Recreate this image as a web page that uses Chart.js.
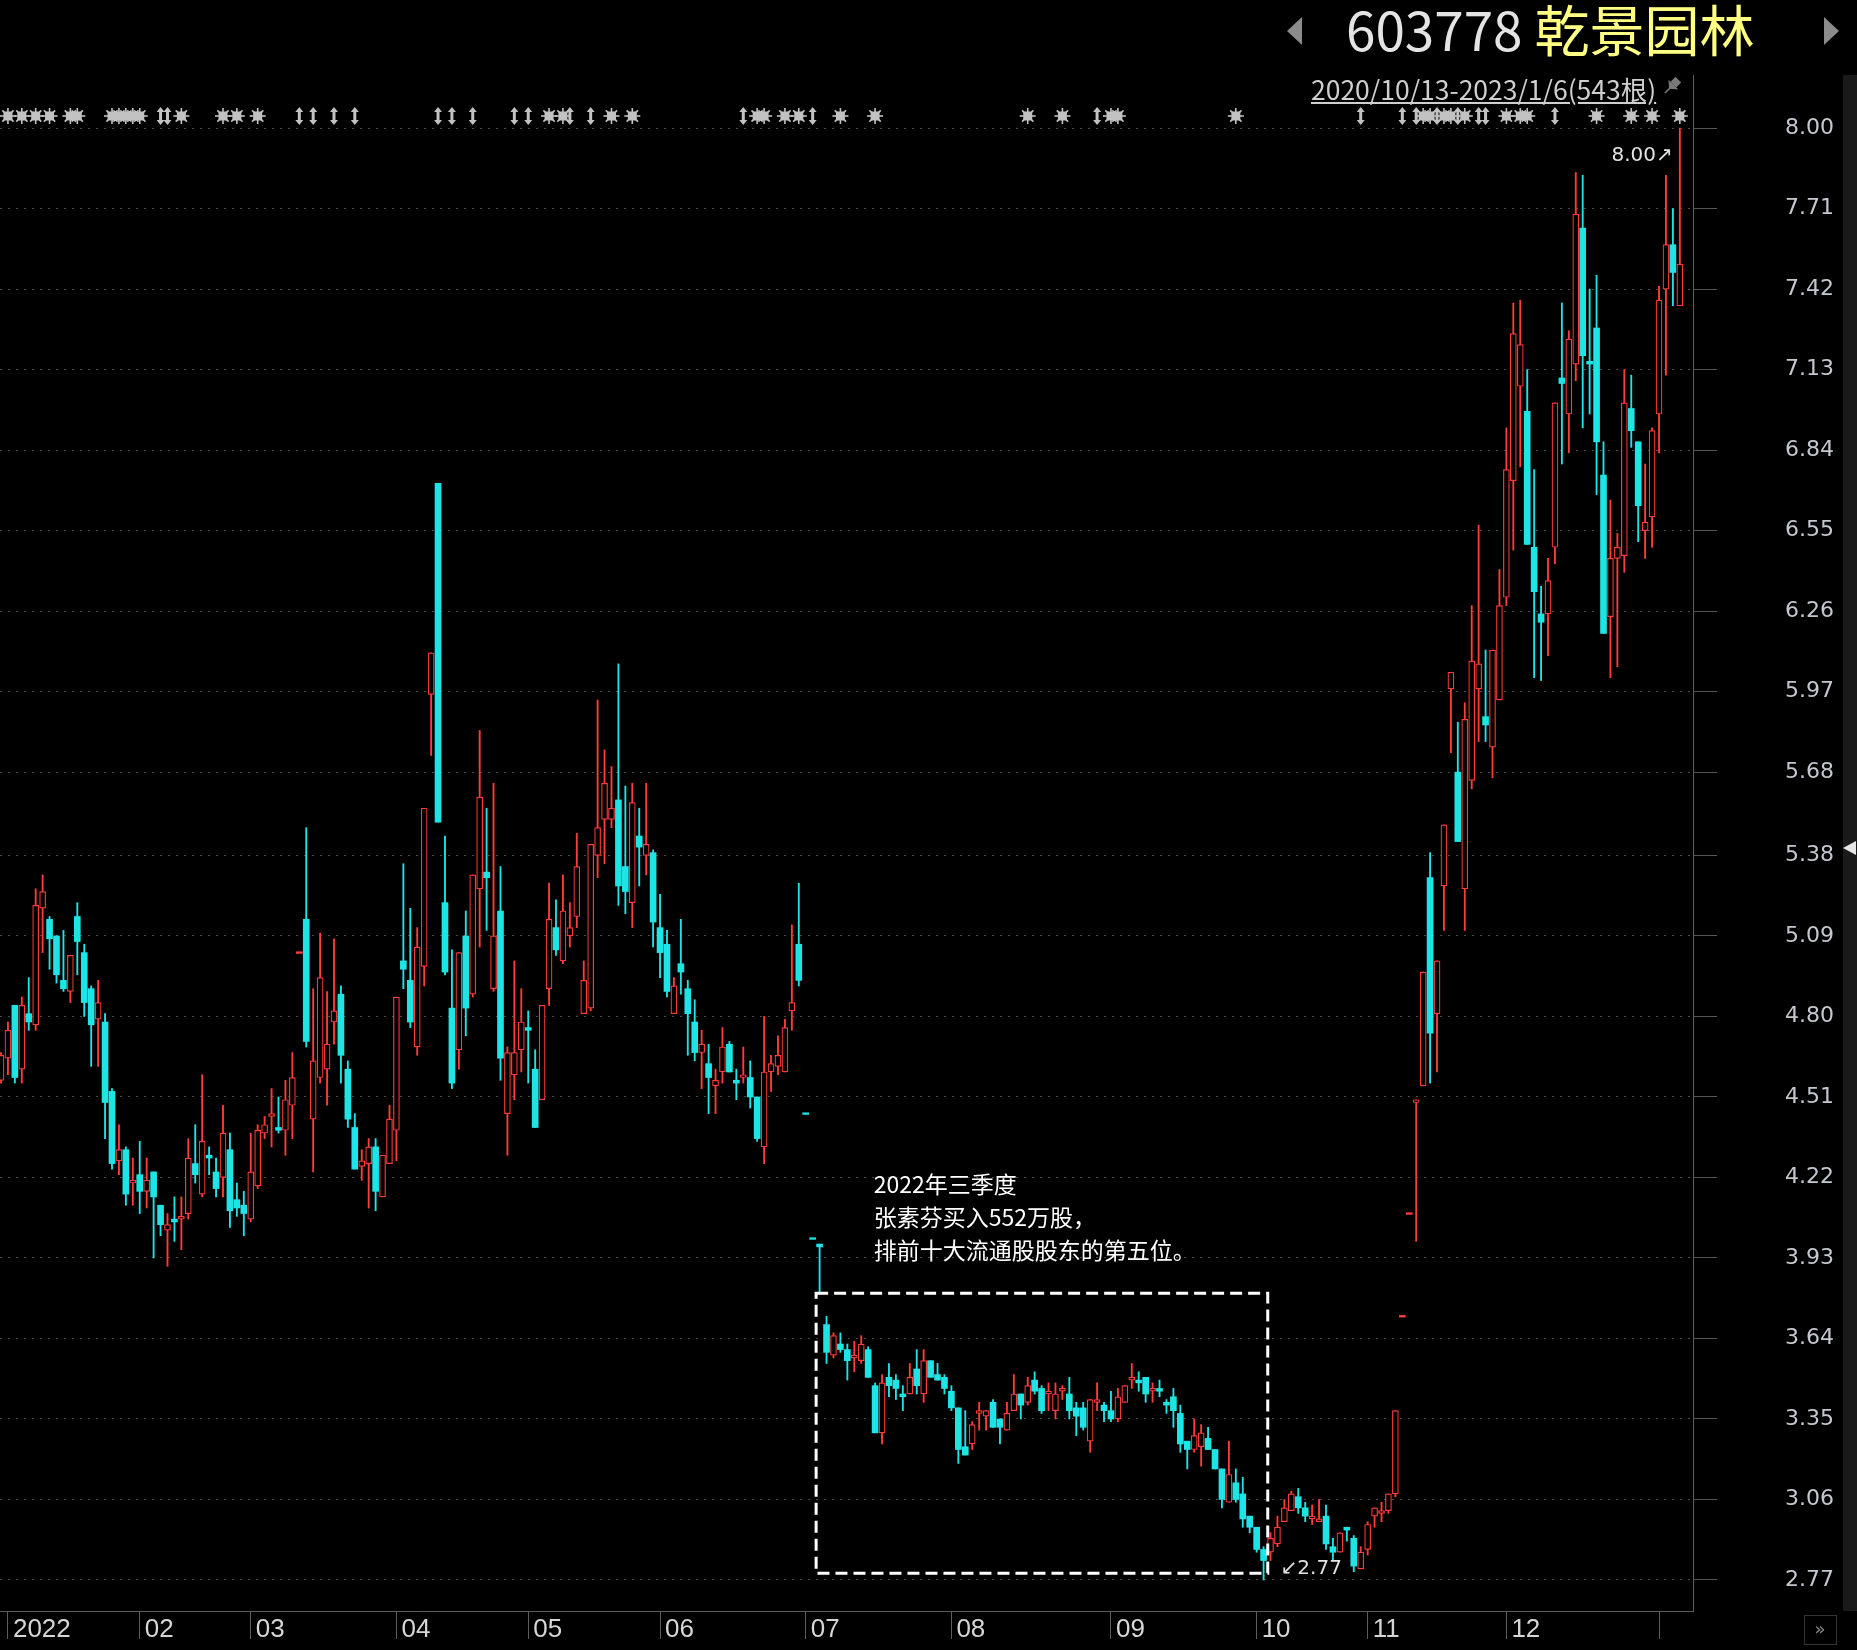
<!DOCTYPE html>
<html>
<head>
<meta charset="utf-8">
<script src="https://cdn.jsdelivr.net/npm/chart.js@4.4.1/dist/chart.umd.min.js"></script>
<style>
  html, body { margin: 0; padding: 0; background: #000; }
  #wrap { position: relative; width: 1857px; height: 1650px; overflow: hidden; background: #000; }
  #box { position: absolute; left: 0; top: 0; width: 1857px; height: 1650px; }
  #title { position: absolute; left: 1346px; top: 1px; font: 53px "Noto Sans CJK SC"; line-height: 53px; white-space: nowrap; }
  #title .code { color: #e4e4e4; }
  #title .name { color: #ffff82; font-size: 55px; }
  #range { position: absolute; left: 1311px; top: 75px; font: 26.5px "Noto Sans CJK SC"; line-height: 27px; color: #cfcfcf; text-decoration: underline; white-space: nowrap; }
  .tri { position: absolute; width: 0; height: 0; border-top: 14px solid transparent; border-bottom: 14px solid transparent; }
  #prev { left: 1287px; top: 17px; border-right: 15px solid #8c8c8c; }
  #next { left: 1824px; top: 17px; border-left: 15px solid #8c8c8c; }
</style>
</head>
<body>
<div id="wrap">
  <div id="box"><canvas id="chart"></canvas></div>
  <div id="prev" class="tri"></div>
  <div id="title"><span class="code">603778</span> <span class="name">乾景园林</span></div>
  <div id="next" class="tri"></div>
  <div id="range">2020/10/13-2023/1/6(543根)</div>
</div>
<script>
// daily candles, 2021-12-31 .. 2023-01-06
const opens = [
  4.57, 4.65, 4.84, 4.61, 4.81, 4.77, 5.19, 5.15, 5.09, 4.93,
  4.89, 5.16, 5.03, 4.90, 4.79, 4.78, 4.53, 4.28, 4.32, 4.20,
  4.23, 4.17, 4.24, 4.12, 4.03, 4.07, 4.07, 4.09, 4.27, 4.16,
  4.30, 4.24, 4.22, 4.32, 4.14, 4.12, 4.07, 4.19, 4.38, 4.44,
  4.40, 4.39, 4.48, 5.03, 5.15, 4.43, 4.58, 4.61, 4.78, 4.88,
  4.61, 4.40, 4.26, 4.27, 4.33, 4.15, 4.27, 4.39, 5.00, 4.93,
  4.69, 4.98, 5.96, 6.72, 5.21, 4.83, 4.68, 5.09, 4.88, 5.26,
  5.32, 4.90, 5.18, 4.45, 4.59, 4.68, 4.76, 4.61, 4.50, 4.90,
  5.12, 5.00, 5.09, 5.16, 4.81, 4.83, 5.38, 5.51, 5.51, 5.58,
  5.34, 5.21, 5.45, 5.38, 5.39, 5.12, 5.06, 4.81, 4.99, 4.90,
  4.78, 4.67, 4.63, 4.55, 4.60, 4.70, 4.57, 4.58, 4.58, 4.51,
  4.33, 4.60, 4.62, 4.60, 4.82, 5.06, 4.45, 4.00, 3.98, 3.69,
  3.58, 3.62, 3.60, 3.57, 3.56, 3.60, 3.47, 3.30, 3.50, 3.49,
  3.44, 3.44, 3.53, 3.44, 3.56, 3.51, 3.50, 3.45, 3.39, 3.25,
  3.26, 3.37, 3.36, 3.41, 3.35, 3.31, 3.38, 3.44, 3.41, 3.49,
  3.46, 3.44, 3.38, 3.45, 3.44, 3.39, 3.39, 3.27, 3.41, 3.40,
  3.38, 3.35, 3.41, 3.49, 3.49, 3.50, 3.45, 3.46, 3.41, 3.43,
  3.37, 3.27, 3.24, 3.25, 3.28, 3.24, 3.17, 3.05, 3.12, 3.08,
  3.00, 2.96, 2.88, 2.87, 2.90, 2.98, 3.02, 3.07, 3.03, 2.99,
  2.98, 3.00, 2.89, 2.87, 2.96, 2.92, 2.81, 2.88, 3.00, 3.01,
  3.02, 3.08, 3.72, 4.09, 4.49, 4.55, 5.30, 4.81, 5.27, 5.98,
  5.68, 5.26, 5.65, 5.98, 5.88, 5.77, 5.94, 6.31, 6.73, 7.07,
  6.98, 6.49, 6.25, 6.25, 6.49, 7.10, 6.97, 7.15, 7.64, 7.16,
  7.28, 6.75, 6.24, 6.45, 6.46, 6.99, 6.87, 6.55, 6.60, 6.97,
  7.42, 7.58, 7.36
];
const highs = [
  4.67, 4.78, 4.84, 4.87, 4.94, 5.26, 5.31, 5.16, 5.09, 5.11,
  5.02, 5.21, 5.06, 4.91, 4.93, 4.81, 4.54, 4.41, 4.33, 4.29,
  4.35, 4.29, 4.24, 4.12, 4.09, 4.15, 4.15, 4.36, 4.41, 4.59,
  4.33, 4.29, 4.48, 4.38, 4.20, 4.17, 4.38, 4.41, 4.44, 4.54,
  4.51, 4.57, 4.67, 5.03, 5.48, 4.90, 5.10, 4.89, 5.08, 4.91,
  4.64, 4.45, 4.32, 4.36, 4.36, 4.30, 4.48, 4.87, 5.35, 5.19,
  5.12, 5.55, 6.11, 6.72, 5.45, 5.04, 5.03, 5.18, 5.31, 5.83,
  5.55, 5.64, 5.34, 4.69, 5.00, 4.90, 4.82, 4.68, 4.84, 5.28,
  5.22, 5.31, 5.21, 5.46, 5.00, 5.42, 5.94, 5.76, 5.70, 6.07,
  5.63, 5.64, 5.55, 5.64, 5.40, 5.24, 5.11, 4.94, 5.15, 4.93,
  4.86, 4.75, 4.70, 4.61, 4.76, 4.71, 4.61, 4.69, 4.64, 4.51,
  4.80, 4.66, 4.73, 4.79, 5.13, 5.28, 4.45, 4.00, 3.98, 3.72,
  3.66, 3.66, 3.62, 3.63, 3.65, 3.61, 3.48, 3.51, 3.55, 3.51,
  3.47, 3.55, 3.60, 3.60, 3.56, 3.55, 3.51, 3.47, 3.39, 3.38,
  3.34, 3.41, 3.38, 3.42, 3.35, 3.41, 3.51, 3.44, 3.50, 3.52,
  3.47, 3.48, 3.48, 3.47, 3.50, 3.41, 3.41, 3.42, 3.48, 3.41,
  3.45, 3.46, 3.47, 3.55, 3.52, 3.50, 3.48, 3.49, 3.42, 3.46,
  3.40, 3.27, 3.35, 3.33, 3.32, 3.24, 3.17, 3.27, 3.17, 3.14,
  3.00, 2.96, 2.89, 2.94, 3.00, 3.06, 3.09, 3.10, 3.05, 3.04,
  3.06, 3.04, 2.92, 2.94, 2.96, 2.93, 2.89, 2.98, 3.03, 3.05,
  3.08, 3.38, 3.72, 4.09, 4.50, 4.96, 5.39, 5.00, 5.49, 6.04,
  5.86, 5.93, 6.28, 6.57, 6.12, 6.12, 6.41, 6.92, 7.37, 7.38,
  7.13, 6.77, 6.35, 6.45, 7.01, 7.37, 7.27, 7.84, 7.83, 7.42,
  7.47, 6.87, 6.66, 6.54, 7.13, 7.11, 6.87, 6.79, 6.92, 7.43,
  7.83, 7.71, 8.00
];
const lows = [
  4.56, 4.59, 4.56, 4.56, 4.75, 4.75, 5.03, 4.97, 4.92, 4.89,
  4.85, 4.95, 4.80, 4.62, 4.62, 4.36, 4.25, 4.23, 4.12, 4.12,
  4.09, 4.11, 3.93, 4.01, 3.90, 3.99, 3.96, 4.07, 4.20, 4.15,
  4.23, 4.15, 4.15, 4.04, 4.08, 4.01, 4.06, 4.18, 4.36, 4.33,
  4.38, 4.30, 4.36, 5.03, 4.69, 4.24, 4.56, 4.48, 4.70, 4.56,
  4.40, 4.25, 4.21, 4.11, 4.10, 4.15, 4.27, 4.28, 4.90, 4.76,
  4.66, 4.91, 5.74, 5.50, 4.95, 4.54, 4.61, 4.73, 4.87, 5.05,
  5.11, 4.89, 4.57, 4.30, 4.50, 4.60, 4.56, 4.40, 4.50, 4.84,
  5.02, 4.99, 5.05, 5.12, 4.81, 4.82, 5.30, 5.35, 5.48, 5.20,
  5.17, 5.12, 5.27, 5.31, 5.05, 4.94, 4.87, 4.81, 4.88, 4.66,
  4.64, 4.54, 4.45, 4.45, 4.56, 4.60, 4.50, 4.56, 4.47, 4.35,
  4.27, 4.53, 4.59, 4.60, 4.75, 4.91, 4.45, 4.00, 3.80, 3.55,
  3.57, 3.59, 3.49, 3.52, 3.55, 3.50, 3.30, 3.26, 3.43, 3.42,
  3.38, 3.44, 3.44, 3.41, 3.50, 3.49, 3.44, 3.38, 3.19, 3.22,
  3.24, 3.31, 3.31, 3.32, 3.26, 3.31, 3.38, 3.35, 3.40, 3.44,
  3.37, 3.38, 3.35, 3.42, 3.35, 3.29, 3.31, 3.23, 3.38, 3.34,
  3.34, 3.34, 3.41, 3.46, 3.45, 3.41, 3.41, 3.43, 3.37, 3.32,
  3.23, 3.17, 3.23, 3.18, 3.24, 3.17, 3.03, 3.05, 3.05, 2.96,
  2.94, 2.87, 2.77, 2.84, 2.89, 2.98, 3.02, 3.01, 2.98, 2.97,
  2.98, 2.88, 2.84, 2.87, 2.91, 2.80, 2.81, 2.86, 2.96, 2.98,
  3.01, 3.07, 3.72, 4.09, 3.99, 4.55, 4.56, 4.60, 5.11, 5.75,
  5.43, 5.11, 5.62, 5.79, 5.79, 5.66, 5.94, 6.28, 6.48, 6.78,
  6.50, 6.02, 6.01, 6.10, 6.43, 6.79, 6.83, 7.09, 6.92, 6.97,
  6.68, 6.18, 6.02, 6.06, 6.40, 6.85, 6.51, 6.45, 6.49, 6.83,
  7.11, 7.36, 7.36
];
const closes = [
  4.66, 4.75, 4.58, 4.84, 4.78, 5.20, 5.25, 5.08, 4.95, 4.90,
  5.02, 5.07, 4.85, 4.77, 4.85, 4.49, 4.27, 4.32, 4.16, 4.21,
  4.17, 4.21, 4.15, 4.05, 4.05, 4.06, 4.08, 4.29, 4.23, 4.35,
  4.29, 4.18, 4.38, 4.10, 4.11, 4.09, 4.24, 4.39, 4.41, 4.45,
  4.39, 4.50, 4.58, 5.03, 4.71, 4.64, 4.94, 4.70, 4.82, 4.66,
  4.43, 4.25, 4.28, 4.33, 4.17, 4.30, 4.43, 4.87, 4.97, 4.78,
  5.05, 5.55, 6.11, 5.50, 4.96, 4.56, 5.03, 4.83, 5.31, 5.59,
  5.30, 5.09, 4.65, 4.67, 4.67, 4.78, 4.75, 4.40, 4.84, 5.15,
  5.04, 5.18, 5.12, 5.34, 4.93, 5.42, 5.48, 5.64, 5.55, 5.27,
  5.25, 5.57, 5.41, 5.42, 5.14, 5.03, 4.89, 4.91, 4.96, 4.81,
  4.67, 4.70, 4.58, 4.57, 4.69, 4.60, 4.56, 4.59, 4.51, 4.36,
  4.60, 4.63, 4.66, 4.76, 4.85, 4.93, 4.45, 4.00, 3.97, 3.59,
  3.65, 3.60, 3.56, 3.58, 3.62, 3.50, 3.30, 3.48, 3.47, 3.46,
  3.43, 3.50, 3.47, 3.56, 3.50, 3.49, 3.46, 3.39, 3.24, 3.22,
  3.33, 3.38, 3.38, 3.32, 3.32, 3.37, 3.44, 3.40, 3.47, 3.45,
  3.38, 3.45, 3.44, 3.46, 3.38, 3.36, 3.32, 3.42, 3.42, 3.38,
  3.35, 3.43, 3.47, 3.50, 3.48, 3.44, 3.46, 3.45, 3.40, 3.38,
  3.26, 3.24, 3.29, 3.30, 3.24, 3.17, 3.06, 3.15, 3.06, 2.99,
  2.96, 2.88, 2.84, 2.92, 2.96, 3.03, 3.08, 3.03, 3.00, 3.00,
  2.99, 2.90, 2.87, 2.94, 2.95, 2.82, 2.87, 2.97, 3.03, 3.02,
  3.08, 3.38, 3.72, 4.09, 4.50, 4.96, 4.74, 5.00, 5.49, 6.04,
  5.43, 5.87, 6.08, 6.07, 5.85, 6.12, 6.28, 6.77, 7.26, 7.22,
  6.50, 6.33, 6.22, 6.37, 7.01, 7.08, 7.24, 7.69, 7.18, 7.15,
  6.87, 6.18, 6.45, 6.49, 7.01, 6.91, 6.64, 6.58, 6.91, 7.38,
  7.58, 7.48, 7.51
];

// x axis: candle index where each month starts, and its label
const monthTickIdx = [1, 20, 36, 57, 76, 95, 116, 137, 160, 181, 197, 217, 239];
const monthLabels = ['2022', '02', '03', '04', '05', '06', '07', '08', '09', '10', '11', '12', ''];

const yTickLabels = ['2.77', '3.06', '3.35', '3.64', '3.93', '4.22', '4.51', '4.80', '5.09', '5.38',
                     '5.68', '5.97', '6.26', '6.55', '6.84', '7.13', '7.42', '7.71', '8.00'];

// event markers along the top
const starIdx = [1, 3, 5, 7, 10, 11, 16, 17, 18, 19, 20, 26, 32, 34, 37, 79, 81, 88, 91, 109, 110,
                 113, 115, 121, 126, 148, 153, 160, 161, 178, 205, 206, 208, 209, 211, 217, 219, 220,
                 230, 235, 238, 242];
const arrowIdx = [23, 24, 43, 45, 48, 51, 63, 65, 68, 74, 76, 82, 85, 107, 117, 158, 196, 202, 204,
                  207, 210, 213, 214, 224];

const noteLines = ['2022年三季度', '张素芬买入552万股，', '排前十大流通股股东的第五位。'];

const UP = '#ff3b3b';
const DOWN = '#1ee5e5';

const isUp = closes.map((c, i) => c > opens[i] || (c === opens[i] && c >= (i ? closes[i - 1] : c)));
const thin = closes.map((c, i) => Math.abs(c - opens[i]) < 0.006);
const colors = isUp.map(u => u ? UP : DOWN);

const bodyData = opens.map((o, i) => {
  let lo = Math.min(o, closes[i]), hi = Math.max(o, closes[i]);
  if (thin[i]) { const m = (lo + hi) / 2; lo = m - 0.003; hi = m + 0.003; }
  return { x: i, y: [lo, hi] };
});
const wickData = lows.map((l, i) => ({ x: i, y: [l, highs[i]] }));

function drawStar(ctx, cx, cy) {
  ctx.fillStyle = '#c2c2c2';
  ctx.strokeStyle = '#c2c2c2';
  ctx.fillRect(cx - 4.5, cy - 4.5, 9, 9);
  ctx.lineWidth = 1.6;
  for (let k = 0; k < 8; k++) {
    const a = k * Math.PI / 4;
    ctx.beginPath();
    ctx.moveTo(cx + Math.cos(a) * 4, cy + Math.sin(a) * 4);
    ctx.lineTo(cx + Math.cos(a) * 8, cy + Math.sin(a) * 8);
    ctx.stroke();
  }
}

function drawArrow(ctx, cx, cy) {
  ctx.fillStyle = '#c2c2c2';
  ctx.fillRect(cx - 1.5, cy - 5, 3, 10);
  ctx.beginPath();
  ctx.moveTo(cx, cy - 9); ctx.lineTo(cx + 4, cy - 4); ctx.lineTo(cx - 4, cy - 4); ctx.closePath();
  ctx.moveTo(cx, cy + 9); ctx.lineTo(cx + 4, cy + 4); ctx.lineTo(cx - 4, cy + 4); ctx.closePath();
  ctx.fill();
}

const overlay = {
  id: 'overlay',
  afterDatasetsDraw(chart) {
    const { ctx, scales: { x, y } } = chart;
    ctx.save();

    // dashed box round the third quarter
    const bx0 = x.getPixelForValue(117.5), bx1 = x.getPixelForValue(182.6);
    const by0 = y.getPixelForValue(3.803), by1 = y.getPixelForValue(2.794);
    ctx.strokeStyle = '#ffffff';
    ctx.lineWidth = 3;
    ctx.setLineDash([12, 6]);
    ctx.strokeRect(bx0, by0, bx1 - bx0, by1 - by0);
    ctx.setLineDash([]);

    // note text
    ctx.fillStyle = '#ffffff';
    ctx.font = '23px "Noto Sans CJK SC"';
    ctx.textAlign = 'left';
    ctx.textBaseline = 'middle';
    const nx = x.getPixelForValue(125.8);
    [4.196, 4.077, 3.958].forEach((p, i) => ctx.fillText(noteLines[i], nx, y.getPixelForValue(p)));

    // max / min labels
    const hiMax = Math.max(...highs), loMin = Math.min(...lows);
    const iMax = highs.indexOf(hiMax), iMin = lows.indexOf(loMin);
    ctx.font = '20px "DejaVu Sans"';
    ctx.fillStyle = '#e2e2e2';
    ctx.textAlign = 'right';
    ctx.fillText(hiMax.toFixed(2) + '↗', x.getPixelForValue(iMax) - 7, y.getPixelForValue(hiMax) + 28);
    ctx.textAlign = 'left';
    ctx.fillText('↙' + loMin.toFixed(2), x.getPixelForValue(iMin) + 17, y.getPixelForValue(loMin) - 11);

    // event markers
    starIdx.forEach(i => drawStar(ctx, x.getPixelForValue(i), 116));
    arrowIdx.forEach(i => drawArrow(ctx, x.getPixelForValue(i), 116));
    ctx.restore();
  },
  afterDraw(chart) {
    const { ctx, chartArea } = chart;
    ctx.save();
    // right scroll strip with price pointer
    ctx.fillStyle = '#1a1a1a';
    ctx.fillRect(1843, chartArea.top, 14, chartArea.bottom - chartArea.top);
    ctx.fillStyle = '#e6e6e6';
    ctx.beginPath();
    ctx.moveTo(1843, 848); ctx.lineTo(1856, 841); ctx.lineTo(1856, 855); ctx.closePath();
    ctx.fill();
    // button bottom right
    ctx.strokeStyle = '#333';
    ctx.lineWidth = 1;
    ctx.strokeRect(1804.5, 1615.5, 32, 29);
    ctx.fillStyle = '#8a8a8a';
    ctx.font = '18px "DejaVu Sans"';
    ctx.textAlign = 'center';
    ctx.textBaseline = 'middle';
    ctx.fillText('»', 1820, 1630);
    // pin icon after the date range
    ctx.translate(1672, 86);
    ctx.rotate(Math.PI / 4);
    ctx.fillStyle = '#7a7a7a';
    ctx.fillRect(-4, -9, 8, 7);
    ctx.beginPath();
    ctx.moveTo(-7, -2); ctx.lineTo(7, -2); ctx.lineTo(0, 4); ctx.closePath();
    ctx.fill();
    ctx.fillRect(-0.75, 3, 1.5, 7);
    ctx.restore();
  }
};

new Chart(document.getElementById('chart'), {
  type: 'bar',
  data: {
    datasets: [
      {
        label: 'body',
        data: bodyData,
        order: 0,
        grouped: false,
        barThickness: 6,
        borderSkipped: false,
        backgroundColor: colors.map((c, i) => isUp[i] && !thin[i] ? '#000000' : c),
        borderColor: colors,
        borderWidth: isUp.map((u, i) => u && !thin[i] ? 1.2 : 0)
      },
      {
        label: 'wick',
        data: wickData,
        order: 1,
        grouped: false,
        barThickness: 1.2,
        borderSkipped: false,
        backgroundColor: colors,
        borderWidth: 0
      }
    ]
  },
  options: {
    responsive: true,
    maintainAspectRatio: false,
    animation: false,
    events: [],
    layout: { padding: { top: 75, left: 0, right: 0, bottom: 0 } },
    plugins: {
      legend: { display: false },
      tooltip: { enabled: false }
    },
    scales: {
      x: {
        type: 'linear',
        min: -0.144,
        max: 243.9,
        offset: false,
        bounds: 'data',
        afterBuildTicks: s => { s.ticks = monthTickIdx.map(v => ({ value: v })); },
        afterFit: s => { s.height = 39; s.paddingLeft = 0; s.paddingRight = 0; },
        grid: { drawOnChartArea: false, offset: false, tickLength: 28, tickColor: '#5c5c5c', tickWidth: 1 },
        border: { display: true, color: '#5c5c5c', width: 1 },
        ticks: {
          autoSkip: false,
          maxRotation: 0,
          align: 'start',
          labelOffset: 5,
          padding: -25,
          color: '#d6d6d6',
          font: { family: '"Liberation Sans Narrow", "Liberation Sans", sans-serif', size: 26 },
          callback: (v, i) => monthLabels[i]
        }
      },
      y: {
        type: 'linear',
        position: 'right',
        min: 2.6583,
        max: 8.1913,
        bounds: 'data',
        afterBuildTicks: s => { s.ticks = yTickLabels.map(t => ({ value: Number(t) })); },
        afterFit: s => { s.width = 164; s.paddingTop = 0; s.paddingBottom = 0; },
        grid: { color: '#4a4a4a', lineWidth: 1, tickLength: 24, tickColor: '#555555', tickBorderDash: [] },
        border: { display: true, color: '#5c5c5c', width: 1, dash: [2, 6] },
        ticks: {
          padding: 68,
          color: '#c3c8d0',
          font: { family: '"DejaVu Sans", sans-serif', size: 22 },
          callback: (v, i) => yTickLabels[i]
        }
      }
    }
  },
  plugins: [overlay]
});
</script>
</body>
</html>
